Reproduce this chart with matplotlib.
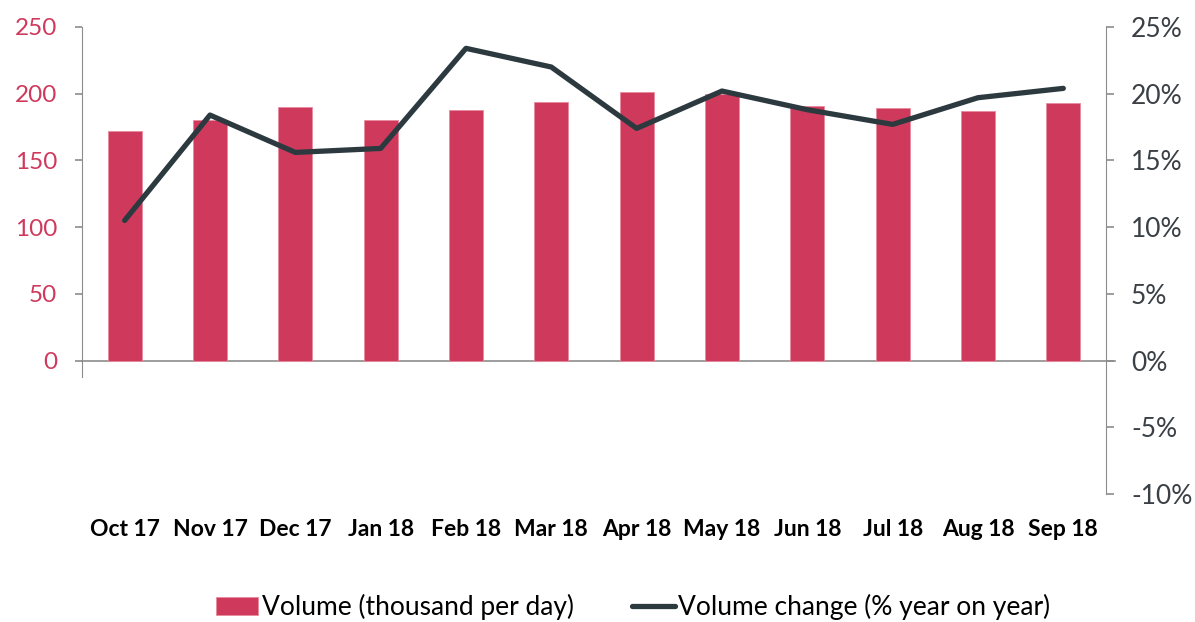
import matplotlib
matplotlib.use("Agg")
import matplotlib.pyplot as plt
from matplotlib.ticker import FuncFormatter

plt.rcParams["font.family"] = ["Lato", "DejaVu Sans"]

months = ["Oct 17", "Nov 17", "Dec 17", "Jan 18", "Feb 18", "Mar 18",
          "Apr 18", "May 18", "Jun 18", "Jul 18", "Aug 18", "Sep 18"]
volume = [172, 180, 190, 180, 188, 194, 201, 200, 191, 189, 187, 193]
change = [10.5, 18.4, 15.6, 15.9, 23.4, 22.0, 17.4, 20.2, 18.8, 17.7, 19.7, 20.4]

bar_col = "#CF3A5C"
line_col = "#2C3A40"
axis_col = "#8C8C8C"

fig = plt.figure(figsize=(11.95, 6.22), dpi=100)
ax = fig.add_axes([0.0686, 0.2058, 0.8569, 0.7508])
ax2 = ax.twinx()

x = range(len(months))
bars = ax.bar(x, volume, width=0.4, color=bar_col, edgecolor="#E98AA0", linewidth=0.6,
              label="Volume (thousand per day)", zorder=2)
ln, = ax2.plot(x, change, color=line_col, lw=3.8, solid_capstyle="round",
               label="Volume change (% year on year)", zorder=3)

ax.set_xlim(-0.5, len(months) - 0.5)
ax.set_ylim(-100, 250)
ax2.set_ylim(-10, 25)
ax.set_yticks([0, 50, 100, 150, 200, 250])
ax2.set_yticks(range(-10, 30, 5))
ax2.yaxis.set_major_formatter(FuncFormatter(lambda v, p: f"{v:.0f}%"))

for s in ["top", "bottom", "right"]:
    ax.spines[s].set_visible(False)
for s in ["top", "bottom", "left"]:
    ax2.spines[s].set_visible(False)
ax.spines["left"].set_color(axis_col)
ax.spines["left"].set_bounds(-12, 250)
ax2.spines["right"].set_color(axis_col)
ax2.spines["right"].set_bounds(-10, 25)

# zero line across the plot
ax.plot([-0.5, len(months) - 0.4], [0, 0], color=axis_col, lw=1.2, zorder=1,
        clip_on=False)

ax.tick_params(axis="y", colors=axis_col, labelcolor=bar_col, labelsize=17.5,
               length=5, width=1.2, pad=13)
ax2.tick_params(axis="y", colors=axis_col, labelcolor="#3A4045", labelsize=19,
                length=6, width=1.2, pad=12)
ax.set_xticks(list(x))
ax.set_xticklabels(months, fontweight="bold", fontsize=16.5)
ax.tick_params(axis="x", length=0, pad=18)

fig.legend([bars, ln], ["Volume (thousand per day)", "Volume change (% year on year)"],
           loc="lower center", bbox_to_anchor=(0.53, -0.035), ncol=2, frameon=False,
           fontsize=19, handlelength=1.6, handletextpad=0.15, columnspacing=2.2)

fig.savefig("out.png", dpi=100)
